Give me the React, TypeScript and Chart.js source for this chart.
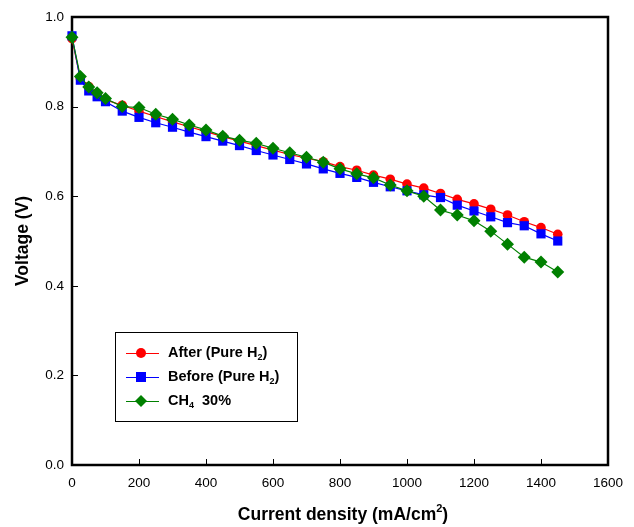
import React, { useEffect, useRef } from "react";
import { Chart, registerables } from "chart.js";

Chart.register(...registerables);

const currentDensity = [0, 25, 50, 75, 100, 150, 200, 250, 300, 350, 400, 450, 500, 550, 600, 650, 700, 750, 800, 850, 900, 950, 1000, 1050, 1100, 1150, 1200, 1250, 1300, 1350, 1400, 1450];
const afterH2 = [0.952, 0.862, 0.845, 0.830, 0.815, 0.803, 0.790, 0.778, 0.766, 0.755, 0.744, 0.733, 0.723, 0.713, 0.703, 0.693, 0.685, 0.677, 0.666, 0.658, 0.647, 0.638, 0.627, 0.618, 0.606, 0.593, 0.583, 0.571, 0.558, 0.543, 0.530, 0.515];
const beforeH2 = [0.958, 0.859, 0.835, 0.822, 0.811, 0.790, 0.776, 0.764, 0.754, 0.743, 0.733, 0.723, 0.713, 0.702, 0.692, 0.682, 0.672, 0.661, 0.651, 0.642, 0.631, 0.621, 0.612, 0.603, 0.597, 0.580, 0.567, 0.554, 0.541, 0.534, 0.516, 0.500];
const ch4 = [0.955, 0.867, 0.844, 0.831, 0.818, 0.800, 0.798, 0.783, 0.772, 0.759, 0.748, 0.734, 0.725, 0.718, 0.707, 0.697, 0.687, 0.676, 0.661, 0.650, 0.641, 0.625, 0.612, 0.600, 0.569, 0.558, 0.545, 0.522, 0.493, 0.464, 0.453, 0.431];
const xTicks = [0, 200, 400, 600, 800, 1000, 1200, 1400, 1600];
const yTicks = [0, 0.2, 0.4, 0.6, 0.8, 1.0];

const FONT = "'Liberation Sans', Arial, sans-serif";

type Seg = { t: string; sub?: boolean; sup?: boolean };

function drawSegs(ctx: CanvasRenderingContext2D, segs: Seg[], x: number, y: number, size: number, align: "left" | "center") {
  const big = `bold ${size}px ${FONT}`;
  const small = `bold ${Math.round(size * 0.65)}px ${FONT}`;
  let total = 0;
  for (const s of segs) {
    ctx.font = s.sub || s.sup ? small : big;
    total += ctx.measureText(s.t).width;
  }
  let cx = align === "center" ? x - total / 2 : x;
  ctx.textBaseline = "middle";
  ctx.textAlign = "left";
  for (const s of segs) {
    ctx.font = s.sub || s.sup ? small : big;
    const dy = s.sub ? size * 0.3 : s.sup ? -size * 0.35 : 0;
    ctx.fillText(s.t, cx, y + dy);
    cx += ctx.measureText(s.t).width;
  }
}

const framePlugin = {
  id: "frame",
  beforeDatasetsDraw(chart: any) {
    const ctx: CanvasRenderingContext2D = chart.ctx;
    const { left, right, top, bottom } = chart.chartArea;
    const xs = chart.scales.x;
    const ys = chart.scales.y;
    ctx.save();
    ctx.strokeStyle = "#000";
    ctx.lineWidth = 2.5;
    ctx.strokeRect(left, top, right - left, bottom - top);
    ctx.lineWidth = 1;
    ctx.beginPath();
    for (const v of xTicks) {
      const px = Math.round(xs.getPixelForValue(v)) + 0.5;
      ctx.moveTo(px, bottom);
      ctx.lineTo(px, bottom - 6);
    }
    for (const v of yTicks) {
      const py = Math.round(ys.getPixelForValue(v)) + 0.5;
      ctx.moveTo(left, py);
      ctx.lineTo(left + 6, py);
    }
    ctx.stroke();
    ctx.restore();
  },
  afterDraw(chart: any) {
    const ctx: CanvasRenderingContext2D = chart.ctx;
    const { left, right, top, bottom } = chart.chartArea;
    ctx.save();
    ctx.fillStyle = "#000";
    // axis titles
    drawSegs(ctx, [{ t: "Current density (mA/cm" }, { t: "2", sup: true }, { t: ")" }], (left + right) / 2 + 3, 515, 17.5, "center");
    ctx.save();
    ctx.translate(23, (top + bottom) / 2);
    ctx.rotate(-Math.PI / 2);
    drawSegs(ctx, [{ t: "Voltage (V)" }], 0, 0, 17.5, "center");
    ctx.restore();

    // legend
    ctx.lineWidth = 1;
    ctx.strokeStyle = "#000";
    ctx.strokeRect(115.5, 332.5, 182, 89);
    const items: { color: string; style: string; segs: Seg[]; y: number }[] = [
      { color: "#ff0000", style: "circle", segs: [{ t: "After (Pure H" }, { t: "2", sub: true }, { t: ")" }], y: 353 },
      { color: "#0000ff", style: "rect", segs: [{ t: "Before (Pure H" }, { t: "2", sub: true }, { t: ")" }], y: 377 },
      { color: "#008000", style: "rectRot", segs: [{ t: "CH" }, { t: "4", sub: true }, { t: "  30%" }], y: 401 },
    ];
    for (const it of items) {
      ctx.strokeStyle = it.color;
      ctx.lineWidth = 1;
      ctx.beginPath();
      ctx.moveTo(126, it.y + 0.5);
      ctx.lineTo(159, it.y + 0.5);
      ctx.stroke();
      ctx.fillStyle = it.color;
      ctx.beginPath();
      if (it.style === "circle") {
        ctx.arc(141, it.y, 5, 0, Math.PI * 2);
      } else if (it.style === "rect") {
        ctx.rect(136, it.y - 5, 10, 10);
      } else {
        ctx.moveTo(141, it.y - 6);
        ctx.lineTo(147, it.y);
        ctx.lineTo(141, it.y + 6);
        ctx.lineTo(135, it.y);
        ctx.closePath();
      }
      ctx.fill();
      ctx.fillStyle = "#000";
      drawSegs(ctx, it.segs, 168, it.y, 14.5, "left");
    }
    ctx.restore();
  },
};

export default function App() {
  const ref = useRef<HTMLCanvasElement | null>(null);
  useEffect(() => {
    if (!ref.current) return;
    const mk = (vals: number[]) => currentDensity.map((x, i) => ({ x, y: vals[i] }));
    const chart = new Chart(ref.current, {
      type: "line",
      data: {
        datasets: [
          { label: "After (Pure H2)", data: mk(afterH2), borderColor: "#ff0000", backgroundColor: "#ff0000", pointStyle: "circle", pointRadius: 4.8, pointBorderWidth: 0, borderWidth: 1.2, order: 2, clip: false },
          { label: "Before (Pure H2)", data: mk(beforeH2), borderColor: "#0000ff", backgroundColor: "#0000ff", pointStyle: "rect", pointRadius: 6.5, pointBorderWidth: 0, borderWidth: 1.2, order: 1, clip: false },
          { label: "CH4 30%", data: mk(ch4), borderColor: "#008000", backgroundColor: "#008000", pointStyle: "rectRot", pointRadius: 6.5, pointBorderWidth: 0, borderWidth: 1.2, order: 0, clip: false },
        ],
      },
      options: {
        animation: false,
        responsive: false,
        maintainAspectRatio: false,
        layout: { padding: { left: 0, top: 17, right: 26, bottom: 0 } },
        plugins: { legend: { display: false }, tooltip: { enabled: false } },
        scales: {
          x: {
            type: "linear",
            min: 0,
            max: 1600,
            afterBuildTicks: (s: any) => { s.ticks = xTicks.map((v) => ({ value: v })); },
            afterFit: (s: any) => { s.height = 62; },
            grid: { display: false, drawTicks: false },
            border: { display: false },
            ticks: { color: "#000", padding: 10, font: { family: FONT, size: 13.5 }, maxRotation: 0, callback: (v: any) => String(v) },
          },
          y: {
            type: "linear",
            min: 0,
            max: 1,
            afterBuildTicks: (s: any) => { s.ticks = yTicks.map((v) => ({ value: v })); },
            afterFit: (s: any) => { s.width = 72; },
            grid: { display: false, drawTicks: false },
            border: { display: false },
            ticks: { color: "#000", padding: 8, font: { family: FONT, size: 13.5 }, callback: (v: any) => Number(v).toFixed(1) },
          },
        },
      },
      plugins: [framePlugin],
    });
    return () => chart.destroy();
  }, []);
  return (
    <div style={{ position: "absolute", left: 0, top: 0, width: 634, height: 527, background: "#fff" }}>
      <canvas ref={ref} width={634} height={527} style={{ width: 634, height: 527, display: "block" }} />
    </div>
  );
}
